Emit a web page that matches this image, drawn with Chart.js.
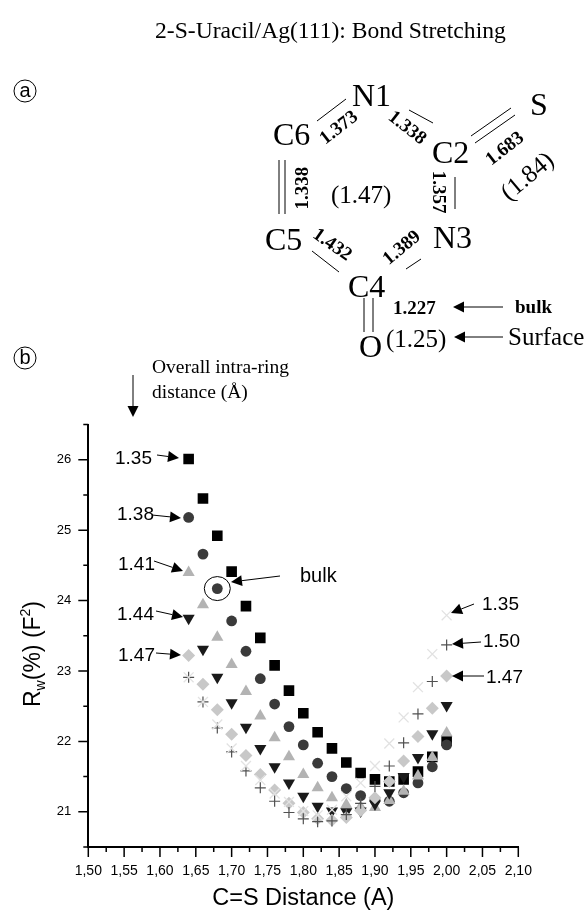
<!DOCTYPE html>
<html>
<head>
<meta charset="utf-8">
<style>
  html, body { margin: 0; padding: 0; background: #fff; }
  #wrap { position: relative; width: 586px; height: 913px; }
</style>
<script src="https://cdn.jsdelivr.net/npm/chart.js@4"></script>
</head>
<body>
<div id="wrap"><canvas id="chart" width="586" height="913"></canvas></div>
<script>
// C=S distance values, one per column of points
const distances = [1.64, 1.66, 1.68, 1.70, 1.72, 1.74, 1.76, 1.78, 1.80, 1.82, 1.84, 1.86, 1.88, 1.90, 1.92, 1.94, 1.96, 1.98, 2.00];

// R-factor curves
const rw135 = [26.01, 25.45, 24.92, 24.41, 23.92, 23.47, 23.08, 22.72, 22.40, 22.13, 21.90, 21.70, 21.55, 21.46, 21.43, 21.46, 21.57, 21.78, 22.01];
const rw138 = [25.18, 24.66, 24.17, 23.71, 23.28, 22.89, 22.53, 22.21, 21.95, 21.69, 21.50, 21.33, 21.23, 21.17, 21.15, 21.27, 21.41, 21.64, 21.95];
const rw141 = [24.40, 23.94, 23.48, 23.09, 22.71, 22.36, 22.05, 21.78, 21.53, 21.34, 21.20, 21.10, 21.07, 21.06, 21.16, 21.29, 21.51, 21.77, 22.12];
const rw144 = [23.75, 23.31, 22.91, 22.55, 22.20, 21.90, 21.64, 21.41, 21.22, 21.08, 21.01, 21.00, 21.01, 21.11, 21.27, 21.50, 21.77, 22.11, 22.51];
const rw147 = [23.22, 22.81, 22.45, 22.10, 21.80, 21.53, 21.31, 21.12, 20.99, 20.90, 20.88, 20.92, 21.02, 21.20, 21.43, 21.72, 22.07, 22.47, 22.93];
const rw150 = [22.91, 22.56, 22.19, 21.85, 21.58, 21.34, 21.15, 20.99, 20.90, 20.86, 20.87, 20.96, 21.12, 21.36, 21.65, 21.98, 22.39, 22.85, 23.37];
const rw153 = [22.91, 22.56, 22.24, 21.90, 21.65, 21.45, 21.26, 21.14, 21.01, 20.95, 21.03, 21.22, 21.41, 21.65, 21.97, 22.34, 22.77, 23.24, 23.79];

const xTicks = [1.50, 1.55, 1.60, 1.65, 1.70, 1.75, 1.80, 1.85, 1.90, 1.95, 2.00, 2.05, 2.10];
const xMinorTicks = [1.525, 1.575, 1.625, 1.675, 1.725, 1.775, 1.825, 1.875, 1.925, 1.975, 2.025, 2.075];
const yTicks = [21, 22, 23, 24, 25, 26];
const yMinorTicks = [20.5, 21.5, 22.5, 23.5, 24.5, 25.5, 26.5];

const SERIF = '"Liberation Serif"';
const SANS = '"Liberation Sans"';

// Text on the sheet: [text, x, y, font]
const sheetTexts = [
    ['2-S-Uracil/Ag(111): Bond Stretching', 155, 38, '23.6px ' + SERIF],
    ['Overall intra-ring', 152, 373, '19.5px ' + SERIF],
    ['distance (\u00C5)', 152, 398, '19.5px ' + SERIF],
    ['N1', 352, 106, '32px ' + SERIF],
    ['C6', 273, 145, '32px ' + SERIF],
    ['C2', 432, 163, '32px ' + SERIF],
    ['S', 530, 115, '32px ' + SERIF],
    ['C5', 265, 250, '32px ' + SERIF],
    ['N3', 433, 248, '32px ' + SERIF],
    ['C4', 348, 297, '32px ' + SERIF],
    ['O', 359, 357, '32px ' + SERIF],
    ['(1.47)', 331, 203, '25px ' + SERIF],
    ['(1.25)', 386, 347, '25px ' + SERIF],
    ['Surface', 508, 345, '25px ' + SERIF],
    ['bulk', 515, 313, 'bold 19px ' + SERIF],
    ['1.227', 393, 314, 'bold 19px ' + SERIF],
    ['1.35', 115, 464, '19px ' + SANS],
    ['1.38', 117, 520, '19px ' + SANS],
    ['1.41', 118, 570, '19px ' + SANS],
    ['1.44', 117, 620, '19px ' + SANS],
    ['1.47', 118, 661, '19px ' + SANS],
    ['1.35', 482, 610, '19px ' + SANS],
    ['1.50', 483, 647, '19px ' + SANS],
    ['1.47', 486, 683, '19px ' + SANS],
    ['bulk', 300, 582, '20px ' + SANS]
];

// Rotated labels, centred: [text, cx, cy, font, rotation in degrees]
const rotatedTexts = [
    ['1.373', 339, 128, 'bold 19px ' + SERIF, -38],
    ['1.338', 407, 128, 'bold 19px ' + SERIF, 38],
    ['1.683', 505, 149, 'bold 19px ' + SERIF, -38],
    ['1.338', 303, 188, 'bold 19px ' + SERIF, -90],
    ['1.357', 438, 192, 'bold 19px ' + SERIF, 90],
    ['1.432', 332, 245, 'bold 19px ' + SERIF, 35],
    ['1.389', 402, 248, 'bold 19px ' + SERIF, -40],
    ['(1.84)', 528, 177, '25px ' + SERIF, -40]
];

// Bonds of the ring
const bonds = [
    [346, 99, 317, 121], [409, 110, 433, 123],
    [471, 136, 511, 108], [475, 143, 515, 115],
    [279, 160, 279, 214], [285, 160, 285, 214],
    [455, 177, 455, 209], [312, 251, 339, 272],
    [406, 269, 421, 259],
    [364, 298, 364, 332], [373, 298, 373, 332]
];

// Arrows: x0, y0 to the tip x1, y1
const arrows = [
    [503, 307, 453, 307], [503, 337, 454, 337],
    [133, 375, 133, 417],
    [157, 455, 179, 458], [152, 515, 181, 518], [154, 561, 183, 571],
    [156, 611, 183, 617], [156, 653, 181, 655],
    [280, 576, 231, 582],
    [474, 604, 451, 613], [481, 642, 452, 644], [484, 676, 452, 676]
];

function drawArrow(ctx, a) {
    const ang = Math.atan2(a[3] - a[1], a[2] - a[0]);
    const len = 11, half = 5.5;
    ctx.beginPath();
    ctx.moveTo(a[0], a[1]);
    ctx.lineTo(a[2] - Math.cos(ang) * len, a[3] - Math.sin(ang) * len);
    ctx.stroke();
    ctx.beginPath();
    ctx.moveTo(a[2], a[3]);
    ctx.lineTo(a[2] - Math.cos(ang) * len - Math.sin(ang) * half, a[3] - Math.sin(ang) * len + Math.cos(ang) * half);
    ctx.lineTo(a[2] - Math.cos(ang) * len + Math.sin(ang) * half, a[3] - Math.sin(ang) * len - Math.cos(ang) * half);
    ctx.closePath();
    ctx.fill();
}

// Circled panel letter
function drawPanelLetter(ctx, letter, x, y) {
    ctx.lineWidth = 1;
    ctx.beginPath();
    ctx.arc(x, y, 11, 0, Math.PI * 2);
    ctx.stroke();
    ctx.font = '20px ' + SANS;
    ctx.textAlign = 'center';
    ctx.textBaseline = 'middle';
    ctx.fillText(letter, x, y);
}

// Y axis title has a subscript and a superscript, so it is laid out by hand
function drawYTitle(ctx) {
    const parts = [
        ['R', 23, 0], ['w', 14, 5], ['(%) (F', 23, 0], ['2', 14, -10], [')', 23, 0]
    ];
    ctx.save();
    ctx.translate(40, 707);
    ctx.rotate(-Math.PI / 2);
    ctx.textAlign = 'left';
    ctx.textBaseline = 'alphabetic';
    let pos = 0;
    parts.forEach(p => {
        ctx.font = p[1] + 'px ' + SANS;
        ctx.fillText(p[0], pos, p[2]);
        pos += ctx.measureText(p[0]).width;
    });
    ctx.restore();
}

const sheetPlugin = {
    id: 'sheet',
    afterDraw(chart) {
        const ctx = chart.ctx;
        const xs = chart.scales.x, ys = chart.scales.y;
        const left = chart.chartArea.left, bottom = chart.chartArea.bottom;
        ctx.save();
        ctx.fillStyle = '#000';
        ctx.strokeStyle = '#000';

        // axis ticks, major and minor differ in length
        ctx.lineWidth = 1.5;
        ctx.beginPath();
        xTicks.forEach(v => { const p = xs.getPixelForValue(v); ctx.moveTo(p, bottom); ctx.lineTo(p, bottom + 10); });
        xMinorTicks.forEach(v => { const p = xs.getPixelForValue(v); ctx.moveTo(p, bottom); ctx.lineTo(p, bottom + 5); });
        yTicks.forEach(v => { const p = ys.getPixelForValue(v); ctx.moveTo(left, p); ctx.lineTo(left - 10, p); });
        yMinorTicks.forEach(v => { const p = ys.getPixelForValue(v); ctx.moveTo(left, p); ctx.lineTo(left - 5, p); });
        ctx.stroke();

        drawYTitle(ctx);

        ctx.textAlign = 'left';
        ctx.textBaseline = 'alphabetic';
        sheetTexts.forEach(t => {
            ctx.font = t[3];
            ctx.fillText(t[0], t[1], t[2]);
        });

        ctx.textAlign = 'center';
        ctx.textBaseline = 'middle';
        rotatedTexts.forEach(t => {
            ctx.save();
            ctx.translate(t[1], t[2]);
            ctx.rotate(t[4] * Math.PI / 180);
            ctx.font = t[3];
            ctx.fillText(t[0], 0, 0);
            ctx.restore();
        });

        ctx.lineWidth = 1;
        ctx.beginPath();
        bonds.forEach(b => { ctx.moveTo(b[0], b[1]); ctx.lineTo(b[2], b[3]); });
        ctx.stroke();

        arrows.forEach(a => drawArrow(ctx, a));

        // ring around the bulk point
        ctx.beginPath();
        ctx.ellipse(xs.getPixelForValue(1.68), ys.getPixelForValue(24.17), 13, 12, 0, 0, Math.PI * 2);
        ctx.stroke();

        drawPanelLetter(ctx, 'a', 25, 91);
        drawPanelLetter(ctx, 'b', 25, 358);
        ctx.restore();
    }
};

function makeSeries(label, values, style, order) {
    return Object.assign({
        label: label,
        data: distances.map((d, i) => ({ x: d, y: values[i] })),
        showLine: false,
        order: order,
        pointBorderWidth: 0
    }, style);
}

const datasets = [
    makeSeries('1.35', rw135, { pointStyle: 'rect', pointRadius: 7.5, pointBackgroundColor: '#000000', pointBorderColor: '#000000' }, 6),
    makeSeries('1.38', rw138, { pointStyle: 'circle', pointRadius: 5.4, pointBackgroundColor: '#3a3a3a', pointBorderColor: '#3a3a3a' }, 5),
    makeSeries('1.41', rw141, { pointStyle: 'triangle', pointRadius: 7, pointBackgroundColor: '#b3b3b3', pointBorderColor: '#b3b3b3' }, 4),
    makeSeries('1.44', rw144, { pointStyle: 'triangle', pointRotation: 180, pointRadius: 7, pointBackgroundColor: '#1a1a1a', pointBorderColor: '#1a1a1a' }, 3),
    makeSeries('1.47', rw147, { pointStyle: 'rectRot', pointRadius: 6.5, pointBackgroundColor: '#c8c8c8', pointBorderColor: '#c8c8c8' }, 2),
    makeSeries('1.50', rw150, { pointStyle: 'cross', pointRadius: 5.5, pointBorderWidth: 1.2, pointBorderColor: '#505050', pointBackgroundColor: '#505050' }, 1),
    makeSeries('1.53', rw153, { pointStyle: 'crossRot', pointRadius: 7, pointBorderWidth: 1.3, pointBorderColor: '#e2e2e2', pointBackgroundColor: '#e2e2e2' }, 0)
];

new Chart(document.getElementById('chart'), {
    type: 'scatter',
    data: { datasets: datasets },
    options: {
        responsive: false,
        animation: false,
        layout: { padding: { left: 0, top: 424.5, right: 67.7, bottom: 0 } },
        plugins: { legend: { display: false }, tooltip: { enabled: false } },
        scales: {
            x: {
                type: 'linear',
                min: 1.5,
                max: 2.1,
                afterBuildTicks: s => { s.ticks = xTicks.map(v => ({ value: v })); },
                afterFit: s => { s.height = 66; },
                grid: { display: false, drawTicks: false },
                border: { display: true, color: '#000', width: 2 },
                ticks: {
                    autoSkip: false,
                    maxRotation: 0,
                    padding: 16,
                    color: '#000',
                    font: { family: 'Liberation Sans', size: 14 },
                    callback: v => v.toFixed(2).replace('.', ',')
                },
                title: {
                    display: true,
                    text: 'C=S Distance (A)',
                    color: '#000',
                    font: { family: 'Liberation Sans', size: 23.5 },
                    padding: { top: 7, bottom: 0 }
                }
            },
            y: {
                min: 20.5,
                max: 26.5,
                afterBuildTicks: s => { s.ticks = yTicks.map(v => ({ value: v })); },
                afterFit: s => { s.width = 88.3; },
                grid: { display: false, drawTicks: false },
                border: { display: true, color: '#000', width: 2 },
                ticks: {
                    autoSkip: false,
                    padding: 17,
                    color: '#000',
                    font: { family: 'Liberation Sans', size: 13 }
                }
            }
        }
    },
    plugins: [sheetPlugin]
});
</script>
</body>
</html>
